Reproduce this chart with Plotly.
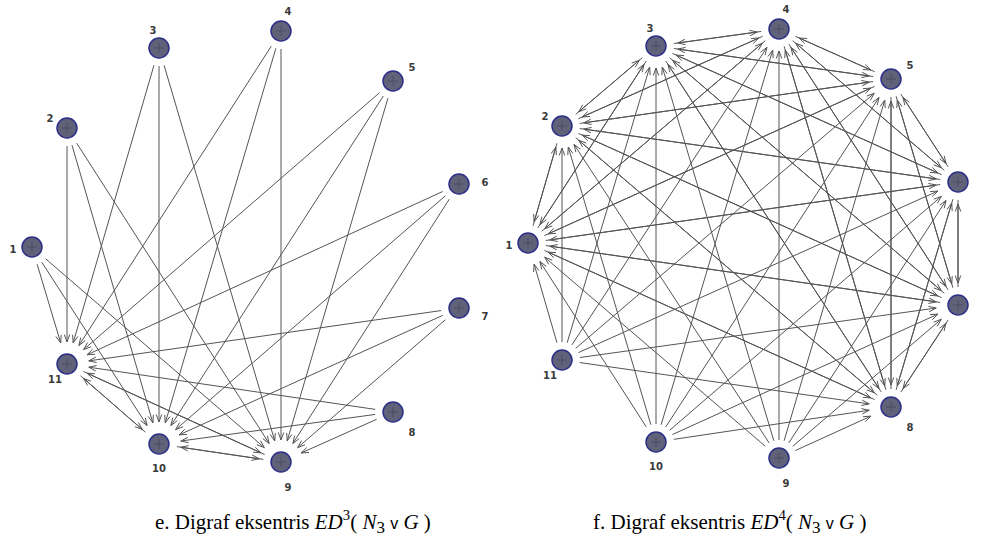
import math
import plotly.graph_objects as go

# ---------------- data ----------------
node_ids = [1, 2, 3, 4, 5, 6, 7, 8, 9, 10, 11]
left_x = [32, 67, 159, 281, 393, 459, 459, 393, 281, 159, 67]
left_y = [247, 128, 48, 31, 81, 184, 308, 412, 462, 444, 364]
right_x = [528, 562, 656, 779, 891, 958, 958, 891, 779, 656, 562]
right_y = [243, 126, 46, 29, 79, 182, 305, 407, 458, 442, 360]

# ED^3: vertices 1..8 point to 9,10,11 ; 9,10,11 mutually adjacent both ways
left_sources = [1, 2, 3, 4, 5, 6, 7, 8]
left_sinks = [9, 10, 11]
# ED^4: 9,10,11 point to 1..8 ; 1..8 mutually adjacent both ways
right_sources = [9, 10, 11]
right_sinks = [1, 2, 3, 4, 5, 6, 7, 8]

OR = "<span style=\"font-family:'Liberation Sans';font-size:16px\">v</span>"
SUB = "<sub><span style=\"font-size:17px\">3</span></sub>"
caption_left = "e. Digraf eksentris <i>ED</i><sup>3</sup>( <i>N</i>" + SUB + " " + OR + " <i>G</i> )"
caption_right = "f. Digraf eksentris <i>ED</i><sup>4</sup>( <i>N</i>" + SUB + " " + OR + " <i>G</i> )"

# label offsets (style)
lab_dx = [-19, -17, -6, 7, 19, 26, 26, 19, 7, 0, -12]
lab_dy = [3, -9, -17, -19, -13, -1, 9, 21, 26, 25, 16]


def directed_edges(sources, sinks):
    e = []
    for s in sources:
        for t in sinks:
            e.append((s, t))
    for a in sinks:
        for b in sinks:
            if a != b:
                e.append((a, b))
    return e


left_edges = directed_edges(left_sources, left_sinks)
right_edges = directed_edges(right_sources, right_sinks)

START_GAP = 18
TIP_GAP = 22
HEAD_LEN = 8
HEAD_ANG = math.radians(20)


def edge_paths(xs, ys, edges):
    lx, ly, hx, hy = [], [], [], []
    for s, t in edges:
        x0, y0 = xs[s - 1], ys[s - 1]
        x1, y1 = xs[t - 1], ys[t - 1]
        dx, dy = x1 - x0, y1 - y0
        L = math.hypot(dx, dy)
        ux, uy = dx / L, dy / L
        sx, sy = x0 + ux * START_GAP, y0 + uy * START_GAP
        tx, ty = x1 - ux * TIP_GAP, y1 - uy * TIP_GAP
        lx += [sx, tx, None]
        ly += [sy, ty, None]
        ang = math.atan2(-uy, -ux)
        for sgn in (1, -1):
            a = ang + sgn * HEAD_ANG
            hx += [tx, tx + HEAD_LEN * math.cos(a), None]
            hy += [ty, ty + HEAD_LEN * math.sin(a), None]
    return lx, ly, hx, hy


fig = go.Figure()
EDGE_COLOR = "#555555"
for xs, ys, edges in ((left_x, left_y, left_edges), (right_x, right_y, right_edges)):
    lx, ly, hx, hy = edge_paths(xs, ys, edges)
    fig.add_trace(go.Scatter(x=lx, y=ly, mode="lines", line=dict(color=EDGE_COLOR, width=1),
                             hoverinfo="skip", showlegend=False))
    fig.add_trace(go.Scatter(x=hx, y=hy, mode="lines", line=dict(color=EDGE_COLOR, width=1),
                             hoverinfo="skip", showlegend=False))

for xs, ys in ((left_x, left_y), (right_x, right_y)):
    fig.add_trace(go.Scatter(x=xs, y=ys, mode="markers",
                             marker=dict(size=20, color="#5f6279",
                                         line=dict(color="#2c2f88", width=1.5)),
                             hoverinfo="skip", showlegend=False, cliponaxis=False))
    fig.add_trace(go.Scatter(x=xs, y=ys, mode="markers",
                             marker=dict(size=7, symbol="cross-thin", color="#4a4d63",
                                         line=dict(color="#4a4d63", width=1)),
                             hoverinfo="skip", showlegend=False, cliponaxis=False))
    fig.add_trace(go.Scatter(x=[x + d for x, d in zip(xs, lab_dx)],
                             y=[y + d for y, d in zip(ys, lab_dy)],
                             mode="text", text=["<b>%d</b>" % n for n in node_ids],
                             textfont=dict(family="DejaVu Sans", size=10, color="#3a3a3a"),
                             textposition="middle center",
                             hoverinfo="skip", showlegend=False, cliponaxis=False))

fig.add_annotation(x=293, y=522, text=caption_left, showarrow=False,
                   font=dict(family="Liberation Serif", size=21, color="black"),
                   xanchor="center", yanchor="middle")
fig.add_annotation(x=729, y=522, text=caption_right, showarrow=False,
                   font=dict(family="Liberation Serif", size=21, color="black"),
                   xanchor="center", yanchor="middle")

fig.update_layout(width=981, height=546, margin=dict(l=0, r=0, t=0, b=0),
                  paper_bgcolor="white", plot_bgcolor="white",
                  xaxis=dict(range=[0, 981], visible=False, fixedrange=True),
                  yaxis=dict(range=[546, 0], visible=False, fixedrange=True))

fig.write_html("out.html", config={"displayModeBar": False},
               post_script="document.body.style.margin='0';document.body.style.overflow='hidden';")
